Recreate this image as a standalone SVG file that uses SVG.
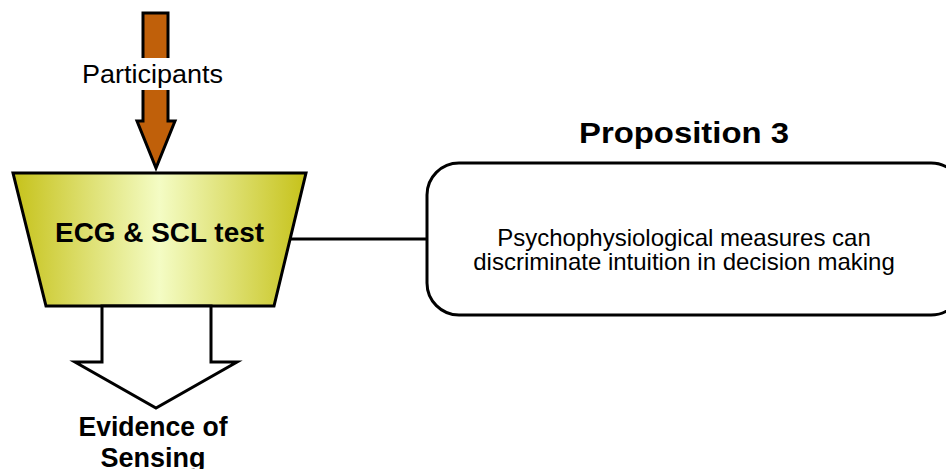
<svg xmlns="http://www.w3.org/2000/svg" width="946" height="469" viewBox="0 0 946 469">
  <defs>
    <linearGradient id="trapFill" x1="13" y1="0" x2="306" y2="0" gradientUnits="userSpaceOnUse">
      <stop offset="0" stop-color="#c6c21a"/>
      <stop offset="0.5" stop-color="#f4fcc4"/>
      <stop offset="1" stop-color="#c6c21a"/>
    </linearGradient>
  </defs>
  <style>
    .outline { stroke: #000; stroke-width: 3; stroke-linejoin: miter; }
    .label { font-family: "Liberation Sans", Arial, sans-serif; fill: #000; }
    .bold { font-weight: bold; }
  </style>

  <rect width="946" height="469" fill="#fff"/>

  <!-- input arrow: Participants -->
  <g id="participants">
    <polygon class="outline" fill="#c0600a" points="143,13 168,13 168,121 175,121 156,168 137,121 143,121"/>
    <rect x="80" y="58" width="146" height="32" fill="#fff"/>
    <text class="label" x="152.5" y="83" font-size="26" text-anchor="middle" textLength="141" lengthAdjust="spacingAndGlyphs">Participants</text>
  </g>

  <!-- connectors -->
  <g id="connectors">
    <line x1="290" y1="239" x2="427" y2="239" stroke="#000" stroke-width="3"/>
  </g>

  <!-- process: ECG & SCL test -->
  <g id="ecg-scl-test">
    <polygon class="outline" fill="url(#trapFill)" points="13,173 306,173 274,306 46,306"/>
    <text class="label bold" x="159.5" y="242" font-size="27" text-anchor="middle" textLength="209" lengthAdjust="spacingAndGlyphs">ECG &amp; SCL test</text>
  </g>

  <!-- output arrow: Evidence of Sensing -->
  <g id="evidence">
    <polygon class="outline" fill="#fff" points="102,306 211,306 211,362 237,362 156,408 75,362 102,362"/>
    <text class="label bold" x="153" y="436" font-size="27" text-anchor="middle" textLength="149" lengthAdjust="spacingAndGlyphs">Evidence of</text>
    <text class="label bold" x="153" y="467" font-size="27" text-anchor="middle">Sensing</text>
  </g>

  <!-- proposition box -->
  <g id="proposition-3">
    <text class="label bold" x="684" y="143" font-size="29" text-anchor="middle" textLength="210" lengthAdjust="spacingAndGlyphs">Proposition 3</text>
    <rect class="outline" x="427" y="163" width="536" height="152" rx="32" ry="32" fill="#fff"/>
    <text class="label" x="684" y="246" font-size="24" text-anchor="middle">Psychophysiological measures can</text>
    <text class="label" x="684" y="270" font-size="24" text-anchor="middle">discriminate intuition in decision making</text>
  </g>
</svg>
